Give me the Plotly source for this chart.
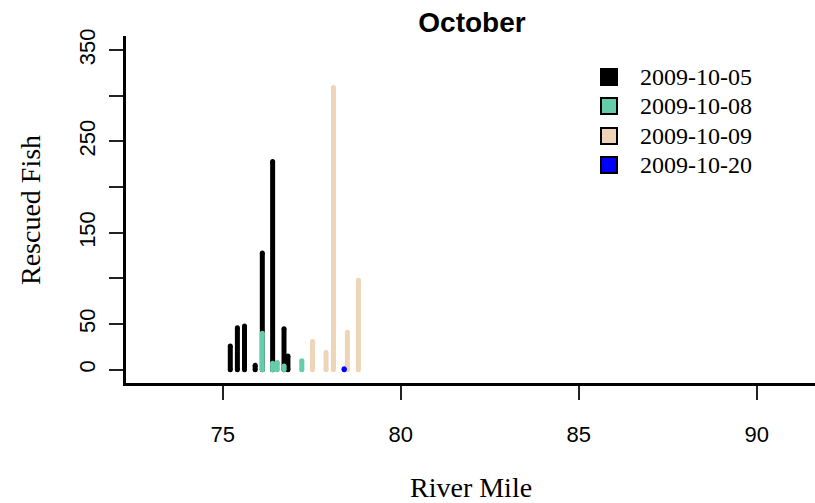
import plotly.graph_objects as go

# ---- data ----
date_labels = ["2009-10-05", "2009-10-08", "2009-10-09", "2009-10-20"]
series_colors = ["#000000", "#66CDAA", "#EED5B7", "#0000FF"]

mile_1005 = [75.21, 75.41, 75.61, 75.91, 76.11, 76.40, 76.72, 76.83]
fish_1005 = [26, 46, 48, 5, 128, 228, 45, 15]
mile_1008 = [76.11, 76.40, 76.53, 76.72, 77.22]
fish_1008 = [40, 7, 8, 4, 10]
mile_1009 = [77.52, 77.90, 78.11, 78.50, 78.81]
fish_1009 = [31, 19, 309, 41, 98]
mile_1020 = [78.41]
fish_1020 = [1]

x_ticks = [75, 80, 85, 90]
y_ticks = [0, 50, 100, 150, 200, 250, 300, 350]
y_ticktext = ["0", "50", "", "150", "", "250", "", "350"]

series = [(mile_1005, fish_1005), (mile_1008, fish_1008),
          (mile_1009, fish_1009), (mile_1020, fish_1020)]

W, H = 815, 503
L, R, T, B = 126, 0, 36, 120

fig = go.Figure()

# vertical "h"-type lines with round caps (markers at both ends)
for (miles, fish), col, name in zip(series, series_colors, date_labels):
    xs, ys = [], []
    for m, f in zip(miles, fish):
        xs += [m, m, None]
        ys += [0, f, None]
    fig.add_trace(go.Scatter(
        x=xs, y=ys, mode="lines+markers", name=name,
        line=dict(color=col, width=5),
        marker=dict(color=col, size=5, line=dict(width=0)),
        showlegend=False, hoverinfo="skip", cliponaxis=False))

tick_font = dict(family="Liberation Sans, Arial", size=22, color="black")
serif = "Liberation Serif, Times New Roman"

def px_x(p):
    return (p - L) / (W - L - R)

def px_y(p):
    return 1 - (p - T) / (H - T - B)

# legend drawn by hand to match the reference spacing
legend_rows_px = [77, 106, 136, 165]
annotations = []
shapes = []
for ypx, col, name in zip(legend_rows_px, series_colors, date_labels):
    shapes.append(dict(type="rect", xref="paper", yref="paper",
                       x0=px_x(601), x1=px_x(617), y0=px_y(ypx + 8), y1=px_y(ypx - 8),
                       fillcolor=col, line=dict(color="black", width=2)))
    annotations.append(dict(text=name, xref="paper", yref="paper",
                            x=px_x(638), y=px_y(ypx), xanchor="left", yanchor="middle",
                            showarrow=False,
                            font=dict(family=serif, size=24, color="black")))

annotations += [
    dict(text="River Mile", xref="paper", yref="paper",
         x=0.5, y=px_y(487), xanchor="center", yanchor="middle",
         showarrow=False, font=dict(family=serif, size=28, color="black")),
    dict(text="Rescued Fish", xref="paper", yref="paper",
         x=px_x(30), y=px_y(210), xanchor="center", yanchor="middle",
         textangle=-90, showarrow=False,
         font=dict(family=serif, size=28, color="black")),
]

fig.update_layout(
    width=W, height=H,
    margin=dict(l=L, r=R, t=T, b=B, pad=0, autoexpand=False),
    paper_bgcolor="white", plot_bgcolor="white",
    showlegend=False,
    title=dict(text="<b>October</b>", x=472 / W, xref="container",
               y=1 - 22 / H, yref="container", xanchor="center", yanchor="middle",
               font=dict(family="Liberation Sans, Arial", size=28, color="black")),
    xaxis=dict(range=[72.28, 91.64], tickvals=x_ticks,
               showgrid=False, zeroline=False,
               showline=True, linecolor="black", linewidth=3,
               ticks="outside", ticklen=14, tickwidth=2, tickcolor="#222",
               tickfont=tick_font, ticklabelstandoff=16, automargin=False),
    yaxis=dict(range=[-14.5, 365.5], tickvals=y_ticks, ticktext=y_ticktext,
               showgrid=False, zeroline=False,
               showline=True, linecolor="black", linewidth=3,
               ticks="outside", ticklen=14, tickwidth=2, tickcolor="#222",
               tickangle=-90, tickfont=tick_font, ticklabelstandoff=5,
               automargin=False),
    shapes=shapes,
    annotations=annotations,
)

fig.write_html("out.html", config={"displayModeBar": False},
               post_script="document.body.style.margin='0';document.body.style.overflow='hidden';")
